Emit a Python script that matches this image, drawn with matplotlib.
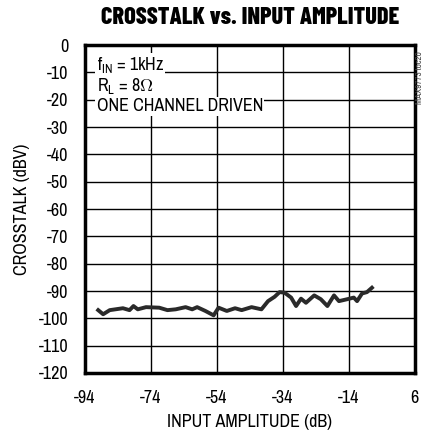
import matplotlib.pyplot as plt

plt.rcParams['font.family'] = ['Archivo Narrow', 'DejaVu Sans']
plt.rcParams['mathtext.fontset'] = 'custom'
plt.rcParams['mathtext.rm'] = 'Archivo Narrow'
plt.rcParams['mathtext.it'] = 'Archivo Narrow'

# curve
amp = [-90, -88.5, -86.5, -82.5, -80.5, -79.3, -78, -75.5, -71.5, -69, -66.5,
       -63.5, -61.5, -60, -57.5, -55, -53.5, -51, -48.5, -46.5, -43.5, -40.5,
       -38.5, -36.5, -35, -33.5, -31.5, -30, -28.5, -27, -24.5, -22.5, -20.5,
       -18.5, -17, -14.5, -12.5, -11.5, -10, -8.5, -7]
xtalk = [-97, -98.5, -97, -96.3, -97, -95.5, -96.7, -95.9, -96.1, -97, -96.7,
         -95.9, -96.7, -95.9, -97.3, -98.9, -96.1, -97.3, -96.3, -97, -95.9, -96.7,
         -93.7, -92.1, -90.4, -90.6, -92.4, -95.5, -92.8, -94.3, -91.6, -93, -95.5,
         -91.6, -93.7, -93, -92.4, -93.7, -90.9, -90.4, -88.8]

xticks = [-94, -74, -54, -34, -14, 6]
yticks = list(range(0, -121, -10))

fig = plt.figure(figsize=(4.25, 4.34), dpi=100)
ax = fig.add_axes([0.2, 0.1406, 0.776, 0.7554])

ax.plot(amp, xtalk, color='#2a2a2a', lw=2.8, solid_joinstyle='round')

ax.set_xlim(-94, 6)
ax.set_ylim(-120, 0)
ax.set_xticks(xticks)
ax.set_yticks(yticks)
ax.set_yticklabels([str(v) for v in yticks])
ax.set_xticklabels([str(v) for v in xticks])
ax.tick_params(length=0, labelsize=13, pad=12)
ax.grid(True, color='black', lw=1)
for s in ax.spines.values():
    s.set_linewidth(2.5)

ax.set_xlabel('INPUT AMPLITUDE (dB)', fontsize=13, labelpad=6)
ax.set_ylabel('CROSSTALK (dBV)', fontsize=13, labelpad=6)
fig.text(0.5882, 0.958, 'CROSSTALK vs. INPUT AMPLITUDE', fontsize=17.5, fontweight=800,
         family=['Barlow Condensed', 'DejaVu Sans'], ha='center', va='center')

bg = dict(facecolor='white', edgecolor='none', pad=1)
ax.text(-90.5, -7.2, r'f$_{\mathregular{IN}}$ = 1kHz', fontsize=13, va='center', bbox=bg)
ax.text(-90.5, -14.8, r'R$_{\mathregular{L}}$ = 8$\Omega$', fontsize=13, va='center', bbox=bg)
ax.text(-90.5, -22.3, 'ONE CHANNEL DRIVEN', fontsize=13, va='center', bbox=bg)

fig.text(0.987, 0.82, 'MAX9773 toc20', rotation=90, fontsize=6.5, va='center', ha='center', color='#444')

fig.savefig('out.png', dpi=100)
